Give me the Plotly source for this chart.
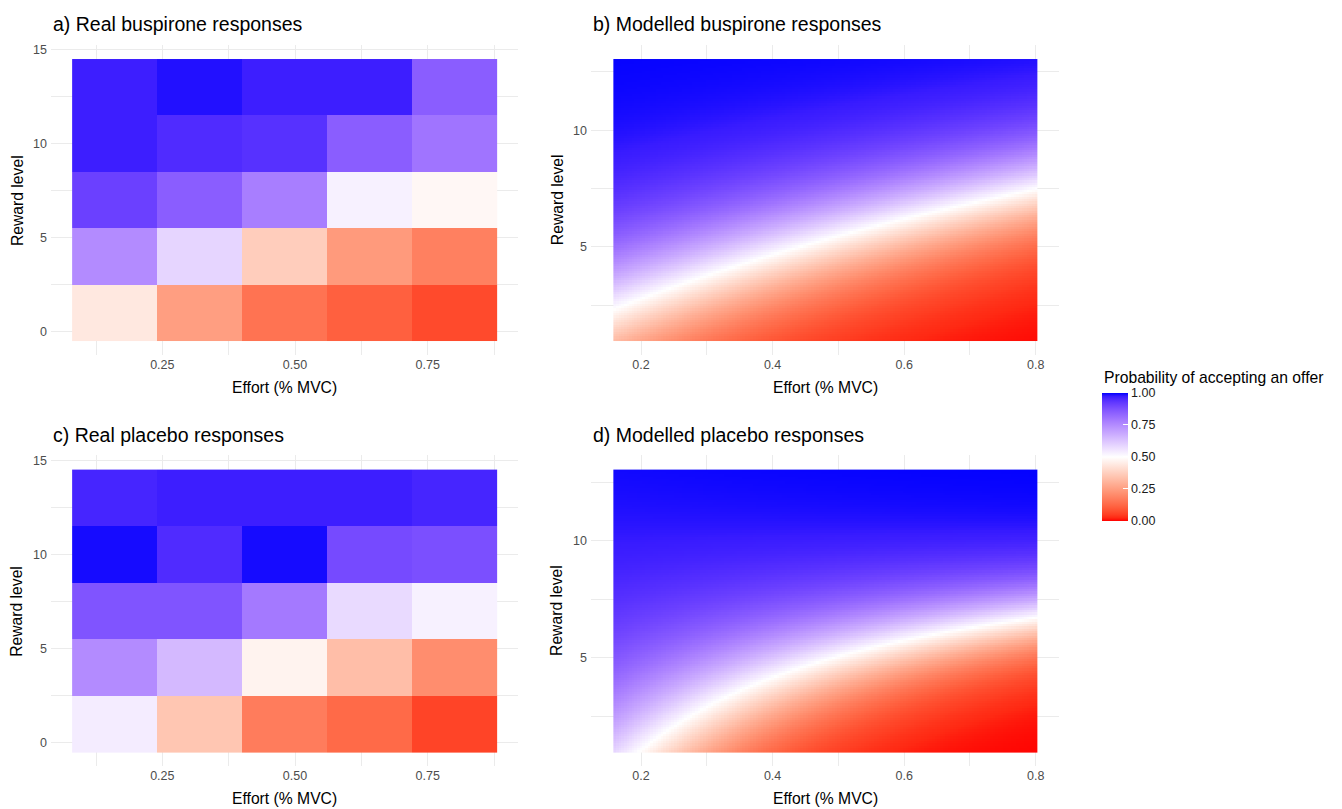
import numpy as np
import plotly.graph_objects as go

# ---------------------------------------------------------------- data
effort_levels = [0.16, 0.32, 0.48, 0.64, 0.80]
reward_levels = [1, 4, 7, 10, 13]

# proportion of offers accepted; rows follow reward_levels, columns effort_levels
buspirone_real = [
    [0.44, 0.25, 0.15, 0.11, 0.07],
    [0.75, 0.59, 0.37, 0.24, 0.18],
    [0.91, 0.85, 0.78, 0.53, 0.48],
    [0.97, 0.95, 0.94, 0.85, 0.80],
    [0.97, 0.985, 0.97, 0.97, 0.85],
]
placebo_real = [
    [0.54, 0.35, 0.17, 0.13, 0.06],
    [0.75, 0.65, 0.47, 0.33, 0.21],
    [0.87, 0.87, 0.79, 0.58, 0.53],
    [0.99, 0.95, 0.99, 0.89, 0.88],
    [0.96, 0.97, 0.97, 0.97, 0.96],
]

# logistic choice model: intercept, reward, effort, reward x effort
buspirone_coef = [-0.20, 0.50, -6.75, 0.3125]
placebo_coef = [1.663, 0.216, -10.47, 0.98]

effort_range = [0.16, 0.80]
reward_range = [1, 13]

x_ticks_real = [0.25, 0.50, 0.75]
x_ticks_model = [0.2, 0.4, 0.6, 0.8]
legend_ticks = [0.0, 0.25, 0.5, 0.75, 1.0]

titles = ["a) Real buspirone responses", "b) Modelled buspirone responses",
          "c) Real placebo responses", "d) Modelled placebo responses"]


# ---------------------------------------------------------------- colours
def _hex_to_lab(h):
    h = h.lstrip("#")
    rgb = np.array([int(h[i:i + 2], 16) for i in (0, 2, 4)]) / 255.0
    lin = np.where(rgb <= 0.04045, rgb / 12.92, ((rgb + 0.055) / 1.055) ** 2.4)
    m = np.array([[0.4124, 0.3576, 0.1805],
                  [0.2126, 0.7152, 0.0722],
                  [0.0193, 0.1192, 0.9505]])
    xyz = m @ lin / np.array([0.95047, 1.0, 1.08883])
    f = np.where(xyz > 0.008856, np.cbrt(xyz), 7.787 * xyz + 16 / 116)
    return np.array([116 * f[1] - 16, 500 * (f[0] - f[1]), 200 * (f[1] - f[2])])


def _lab_to_hex(lab):
    L, a, b = lab
    fy = (L + 16) / 116
    fx = fy + a / 500
    fz = fy - b / 200
    f = np.array([fx, fy, fz])
    xyz = np.where(f ** 3 > 0.008856, f ** 3, (f - 16 / 116) / 7.787)
    xyz = xyz * np.array([0.95047, 1.0, 1.08883])
    m = np.array([[3.2406, -1.5372, -0.4986],
                  [-0.9689, 1.8758, 0.0415],
                  [0.0557, -0.2040, 1.0570]])
    lin = np.clip(m @ xyz, 0, 1)
    rgb = np.where(lin <= 0.0031308, 12.92 * lin, 1.055 * lin ** (1 / 2.4) - 0.055)
    r, g, bb = (np.clip(np.round(rgb * 255), 0, 255)).astype(int)
    return f"#{r:02X}{g:02X}{bb:02X}"


def diverging_scale(low, mid, high, n=41):
    lo, mi, hi = _hex_to_lab(low), _hex_to_lab(mid), _hex_to_lab(high)
    stops = []
    for t in np.linspace(0, 1, n):
        if t <= 0.5:
            lab = lo + (mi - lo) * (t / 0.5)
        else:
            lab = mi + (hi - mi) * ((t - 0.5) / 0.5)
        stops.append([float(t), _lab_to_hex(lab)])
    return stops


colorscale = diverging_scale("#FF0000", "#FFFFFF", "#0000FF")


# ---------------------------------------------------------------- model surfaces
def model_surface(coef, e, r):
    b0, b_r, b_e, b_re = coef
    E, R = np.meshgrid(e, r)
    logit = b0 + b_r * R + b_e * E + b_re * R * E
    return 1.0 / (1.0 + np.exp(-logit))


effort_grid = np.linspace(effort_range[0], effort_range[1], 161)
reward_grid = np.linspace(reward_range[0], reward_range[1], 121)
buspirone_model = model_surface(buspirone_coef, effort_grid, reward_grid)
placebo_model = model_surface(placebo_coef, effort_grid, reward_grid)

# ---------------------------------------------------------------- layout geometry
W, H = 1342, 809


def px_x(a, b):
    return [a / W, b / W]


def px_y(top, bottom):
    return [1 - bottom / H, 1 - top / H]


col_real = (50.9, 517.9)
col_model = (591.0, 1059.4)
row_top = (43.0, 354.3)
row_bottom = (454.6, 766.3)

FONT = "Liberation Sans, Arial, sans-serif"
GRID = "#EBEBEB"
TICK_COLOR = "#4D4D4D"

fig = go.Figure()

fig.add_trace(go.Heatmap(x=effort_levels, y=reward_levels, z=buspirone_real,
                         coloraxis="coloraxis", xaxis="x", yaxis="y",
                         hoverongaps=False))
fig.add_trace(go.Heatmap(x=effort_grid, y=reward_grid, z=buspirone_model,
                         coloraxis="coloraxis", xaxis="x2", yaxis="y2"))
fig.add_trace(go.Heatmap(x=effort_levels, y=reward_levels, z=placebo_real,
                         coloraxis="coloraxis", xaxis="x3", yaxis="y3"))
fig.add_trace(go.Heatmap(x=effort_grid, y=reward_grid, z=placebo_model,
                         coloraxis="coloraxis", xaxis="x4", yaxis="y4"))

common = dict(showline=False, zeroline=False, ticks="", showgrid=True,
              gridcolor=GRID, gridwidth=1.1,
              tickfont=dict(family=FONT, size=12.5, color=TICK_COLOR))


def real_x(domain, anchor):
    return dict(common, domain=px_x(*domain), anchor=anchor, range=[0.04, 0.92],
                tickvals=x_ticks_real, ticktext=[f"{v:.2f}" for v in x_ticks_real],
                minor=dict(tickvals=[0.125, 0.375, 0.625, 0.875], showgrid=True,
                           gridcolor=GRID, gridwidth=0.6))


def real_y(domain, anchor):
    return dict(common, domain=px_y(*domain), anchor=anchor, range=[-1.25, 15.25],
                tickvals=[0, 5, 10, 15], ticklabelstandoff=3,
                minor=dict(tickvals=[2.5, 7.5, 12.5], showgrid=True,
                           gridcolor=GRID, gridwidth=0.6))


def model_x(domain, anchor):
    return dict(common, domain=px_x(*domain), anchor=anchor, range=[0.124, 0.836],
                tickvals=x_ticks_model, ticktext=[f"{v:.1f}" for v in x_ticks_model],
                minor=dict(tickvals=[0.3, 0.5, 0.7], showgrid=True,
                           gridcolor=GRID, gridwidth=0.6))


def model_y(domain, anchor):
    return dict(common, domain=px_y(*domain), anchor=anchor, range=[0.345, 13.655],
                tickvals=[5, 10], ticklabelstandoff=3,
                minor=dict(tickvals=[2.5, 7.5, 12.5], showgrid=True,
                           gridcolor=GRID, gridwidth=0.6))


annotations = []
panel_boxes = [(col_real, row_top), (col_model, row_top),
               (col_real, row_bottom), (col_model, row_bottom)]
for title, (cx, ry) in zip(titles, panel_boxes):
    annotations.append(dict(text=title, x=cx[0] / W, y=1 - (ry[0] - 20.5) / H,
                            xref="paper", yref="paper", xanchor="left", yanchor="middle",
                            showarrow=False, font=dict(family=FONT, size=19.5, color="black")))
    annotations.append(dict(text="Effort (% MVC)", x=(cx[0] + cx[1]) / 2 / W,
                            y=1 - (ry[1] + 32.4) / H, xref="paper", yref="paper",
                            xanchor="center", yanchor="middle", showarrow=False,
                            font=dict(family=FONT, size=15.7, color="black")))
    annotations.append(dict(text="Reward level", x=(cx[0] - 34) / W,
                            y=1 - (ry[0] + ry[1]) / 2 / H, xref="paper", yref="paper",
                            xanchor="center", yanchor="middle", textangle=-90,
                            showarrow=False, font=dict(family=FONT, size=15.7, color="black")))

annotations.append(dict(text="Probability of accepting an offer", x=1102.0 / W, y=1 - 376.7 / H,
                        xref="paper", yref="paper", xanchor="left", yanchor="middle",
                        showarrow=False, font=dict(family=FONT, size=15.7, color="black")))

fig.update_layout(
    width=W, height=H,
    margin=dict(l=0, r=0, t=0, b=0),
    paper_bgcolor="white", plot_bgcolor="white",
    font=dict(family=FONT, color="black"),
    showlegend=False,
    xaxis=real_x(col_real, "y"), yaxis=real_y(row_top, "x"),
    xaxis2=model_x(col_model, "y2"), yaxis2=model_y(row_top, "x2"),
    xaxis3=real_x(col_real, "y3"), yaxis3=real_y(row_bottom, "x3"),
    xaxis4=model_x(col_model, "y4"), yaxis4=model_y(row_bottom, "x4"),
    coloraxis=dict(
        colorscale=colorscale, cmin=0, cmax=1,
        colorbar=dict(
            x=1102.0 / W, xanchor="left", xpad=0, ypad=0,
            y=1 - (391.7 + 520.0) / 2 / H, yanchor="middle",
            lenmode="pixels", len=128.3, thickness=26,
            outlinewidth=0, ticks="inside", ticklen=5, tickcolor="white", tickwidth=1,
            tickvals=legend_ticks, ticktext=[f"{v:.2f}" for v in legend_ticks],
            tickfont=dict(family=FONT, size=12.5, color="#1A1A1A"),
        ),
    ),
    annotations=annotations,
)

fig.write_html("out.html")
